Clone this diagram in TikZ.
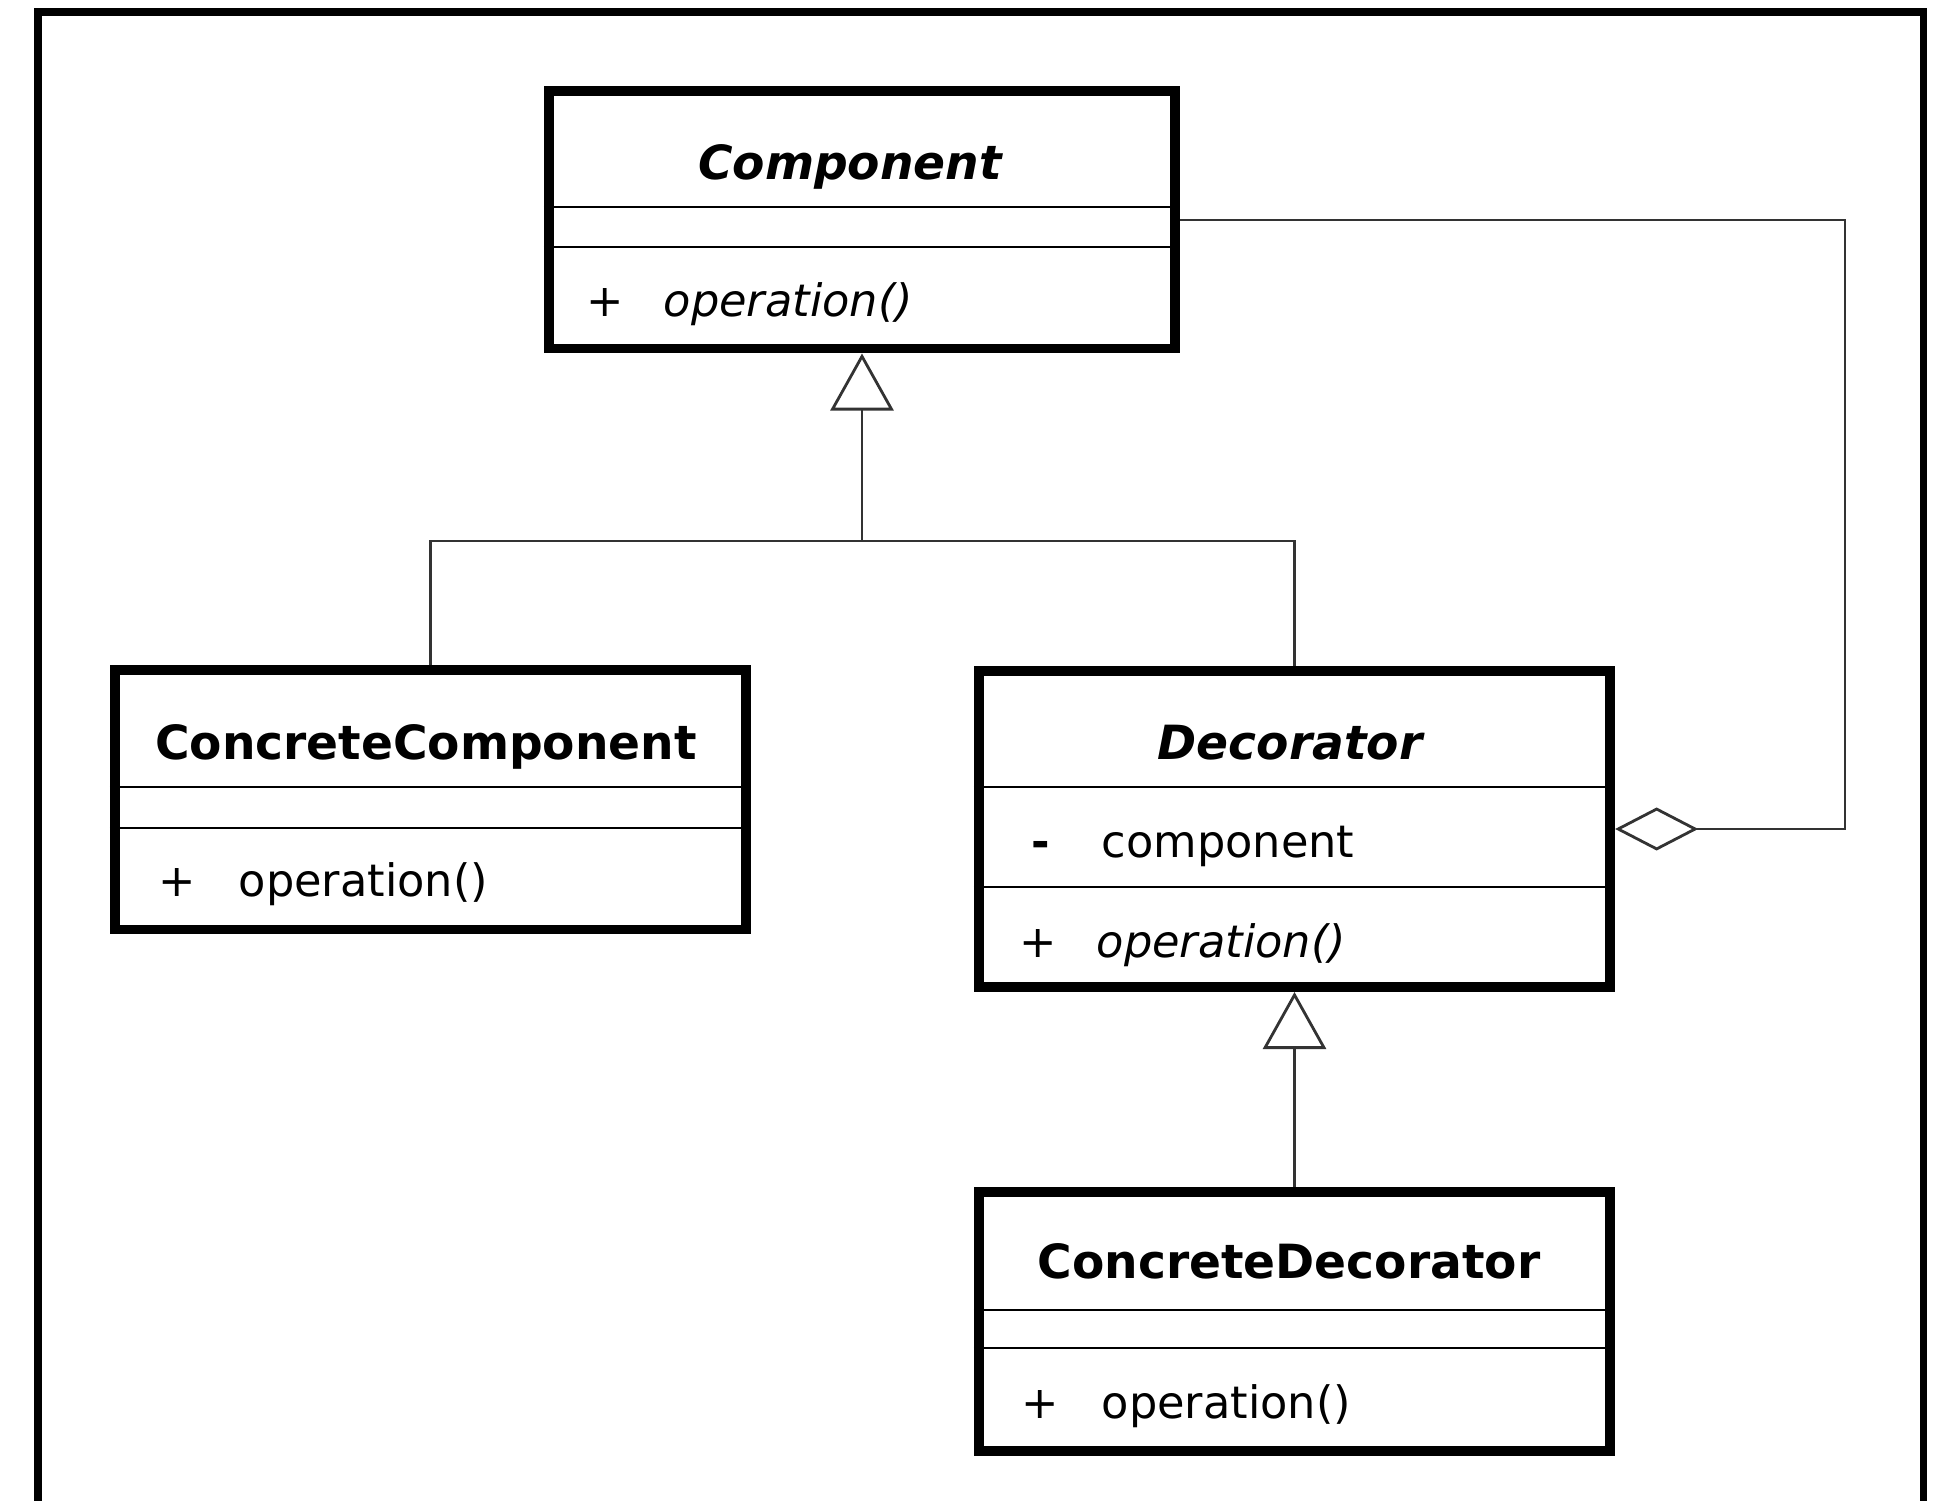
\documentclass[tikz,border=0pt]{standalone}
\usepackage{fontspec}
\setmainfont{DejaVu Sans}
\usetikzlibrary{arrows.meta}

\begin{document}
\begin{tikzpicture}[x=0.01cm, y=-0.01cm,
    classbox/.style={draw, line width=2.8pt, inner sep=0pt},
    sep/.style={line width=0.8pt},
    classname/.style={font=\fontsize{13.4}{16}\selectfont\bfseries, anchor=base, inner sep=0pt},
    member/.style={font=\fontsize{12.7}{15}\selectfont, anchor=base west, inner sep=0pt},
    sign/.style={member, anchor=base},
    line/.style={line width=0.8pt, draw=black!80},
    inherit/.style={line, -{Triangle[open, length=5.7mm, width=6.3mm]}},
    aggr/.style={line, {Diamond[open, length=8.3mm, width=4.3mm]}-}]
    \useasboundingbox (0,0) rectangle (1936,1501);
    \draw[line width=2pt] (38,1501) -- (38,12) -- (1923,12) -- (1923,1501);

    \node[classbox, minimum width=6.26cm, minimum height=2.57cm] (component) at (862,220) {};
    \node[classbox, minimum width=6.31cm, minimum height=2.59cm] (concomp) at (430.5,800) {};
    \node[classbox, minimum width=6.31cm, minimum height=3.16cm] (decorator) at (1294.5,829) {};
    \node[classbox, minimum width=6.31cm, minimum height=2.59cm] (condec) at (1294.5,1321.5) {};

    \draw[sep] (component.west |- 0,207) -- (component.east |- 0,207);
    \draw[sep] (component.west |- 0,247) -- (component.east |- 0,247);
    \draw[sep] (concomp.west |- 0,787) -- (concomp.east |- 0,787);
    \draw[sep] (concomp.west |- 0,828) -- (concomp.east |- 0,828);
    \draw[sep] (decorator.west |- 0,787) -- (decorator.east |- 0,787);
    \draw[sep] (decorator.west |- 0,887) -- (decorator.east |- 0,887);
    \draw[sep] (condec.west |- 0,1310) -- (condec.east |- 0,1310);
    \draw[sep] (condec.west |- 0,1348) -- (condec.east |- 0,1348);

    \node[classname] (componentname) at (850,180) {\itshape Component};
    \node[sign] (componentplus) at (605,317) {+};
    \node[member] (componentop) at (663,317) {\itshape operation()};

    \node[classname] (concompname) at (426,760) {ConcreteComponent};
    \node[sign] (concompplus) at (177,897) {+};
    \node[member] (concompop) at (238,897) {operation()};

    \node[classname] (decoratorname) at (1290,760) {\itshape Decorator};
    \node[sign] (decoratorminus) at (1041,858) {\bfseries -};
    \node[member] (decoratorattr) at (1101,858) {component};
    \node[sign] (decoratorplus) at (1038,958) {+};
    \node[member] (decoratorop) at (1096,958) {\itshape operation()};

    \node[classname] (condecname) at (1289,1278) {ConcreteDecorator};
    \node[sign] (condecplus) at (1040,1418) {+};
    \node[member] (condecop) at (1101,1418) {operation()};

    \coordinate (fork) at (862,541);
    \coordinate (rail) at (1845,220);
    \draw[inherit] (fork) -- (component.south);
    \draw[line] (concomp.north) |- (fork) -| (decorator.north);
    \draw[inherit] (condec.north) -- (decorator.south);
    \draw[aggr] (decorator.east) -| (rail) -- (component.east);
\end{tikzpicture}
\end{document}
